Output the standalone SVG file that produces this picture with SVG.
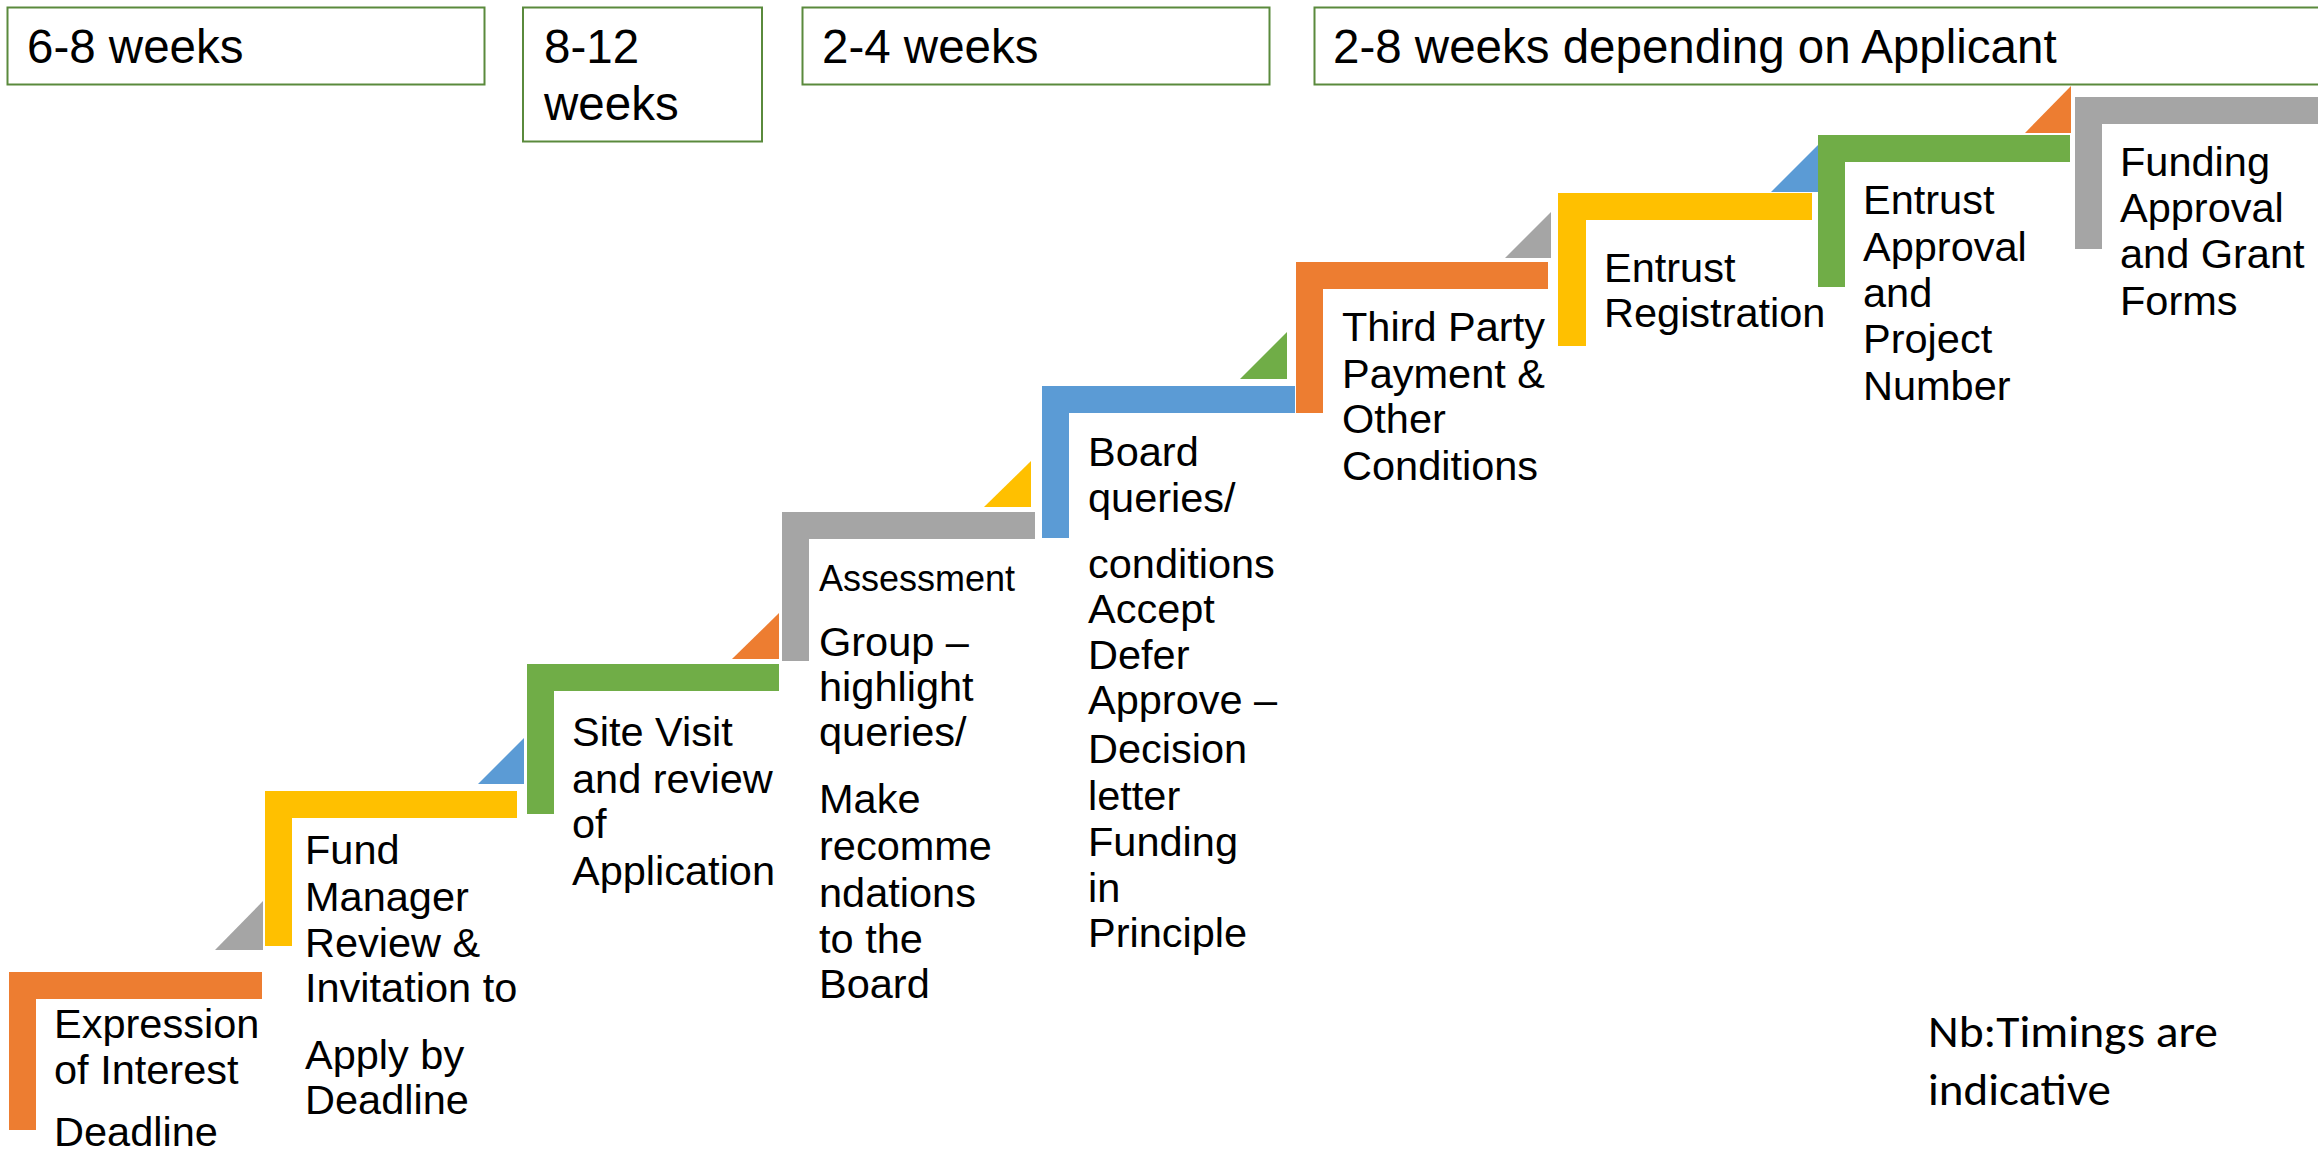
<svg xmlns="http://www.w3.org/2000/svg" width="2318" height="1151" viewBox="0 0 2318 1151">
<style>
  .box { fill: #ffffff; stroke: #5A8A3C; stroke-width: 2; }
  .hdr { font-family: "Liberation Sans", Arial, sans-serif; font-size: 47.5px; fill: #000; }
  .lbl { font-family: "Liberation Sans", Arial, sans-serif; font-size: 41.5px; fill: #000; }
  .sm { font-size: 36px; }
  .note { font-family: Carlito, Lato, "Open Sans", sans-serif; font-size: 46px; fill: #000; }
  .orange { fill: #ED7D31; }
  .yellow { fill: #FFC000; }
  .green { fill: #70AD47; }
  .gray { fill: #A5A5A5; }
  .blue { fill: #5B9BD5; }
</style>
<rect width="2318" height="1151" fill="#ffffff"/>

<g id="timing-1">
  <rect class="box" x="7.5" y="7.5" width="477" height="77"/>
  <text class="hdr" x="27" y="63">6-8 weeks</text>
</g>
<g id="timing-2">
  <rect class="box" x="523" y="7.5" width="239" height="134"/>
  <text class="hdr" x="544" y="63">8-12</text>
  <text class="hdr" x="544" y="120">weeks</text>
</g>
<g id="timing-3">
  <rect class="box" x="802.5" y="7.5" width="467" height="77"/>
  <text class="hdr" x="822" y="63">2-4 weeks</text>
</g>
<g id="timing-4">
  <rect class="box" x="1314.5" y="7.5" width="1030" height="77"/>
  <text class="hdr" x="1333" y="63">2-8 weeks depending on Applicant</text>
</g>

<g id="connectors">
  <polygon class="gray" points="263,901 263,950 215,950"/>
  <polygon class="blue" points="524,738 524,784 478,784"/>
  <polygon class="orange" points="779,613 779,659 732,659"/>
  <polygon class="yellow" points="1031,461 1031,507 984,507"/>
  <polygon class="green" points="1287,332 1287,379 1240,379"/>
  <polygon class="gray" points="1551,212 1551,258 1505,258"/>
  <polygon class="blue" points="1818,145 1818,192 1771,192"/>
  <polygon class="orange" points="2071,86 2071,133 2025,133"/>
</g>

<g id="step-1">
  <path class="orange" d="M9,972 H262 V999 H36 V1130 H9 Z"/>
  <text class="lbl" x="54" y="1038">Expression</text>
  <text class="lbl" x="54" y="1084">of Interest</text>
  <text class="lbl" x="54" y="1146">Deadline</text>
</g>
<g id="step-2">
  <path class="yellow" d="M265,791 H517 V818 H292 V946 H265 Z"/>
  <text class="lbl" x="305" y="864">Fund</text>
  <text class="lbl" x="305" y="911">Manager</text>
  <text class="lbl" x="305" y="957">Review &amp;</text>
  <text class="lbl" x="305" y="1002">Invitation to</text>
  <text class="lbl" x="305" y="1069">Apply by</text>
  <text class="lbl" x="305" y="1114">Deadline</text>
</g>
<g id="step-3">
  <path class="green" d="M527,664 H779 V691 H554 V814 H527 Z"/>
  <text class="lbl" x="572" y="746">Site Visit</text>
  <text class="lbl" x="572" y="793">and review</text>
  <text class="lbl" x="572" y="838">of</text>
  <text class="lbl" x="572" y="885">Application</text>
</g>
<g id="step-4">
  <path class="gray" d="M782,512 H1035 V539 H809 V661 H782 Z"/>
  <text class="lbl sm" x="819" y="591">Assessment</text>
  <text class="lbl" x="819" y="656">Group –</text>
  <text class="lbl" x="819" y="701">highlight</text>
  <text class="lbl" x="819" y="746">queries/</text>
  <text class="lbl" x="819" y="813">Make</text>
  <text class="lbl" x="819" y="860">recomme</text>
  <text class="lbl" x="819" y="907">ndations</text>
  <text class="lbl" x="819" y="953">to the</text>
  <text class="lbl" x="819" y="998">Board</text>
</g>
<g id="step-5">
  <path class="blue" d="M1042,386 H1295 V413 H1069 V538 H1042 Z"/>
  <text class="lbl" x="1088" y="466">Board</text>
  <text class="lbl" x="1088" y="512">queries/</text>
  <text class="lbl" x="1088" y="578">conditions</text>
  <text class="lbl" x="1088" y="623">Accept</text>
  <text class="lbl" x="1088" y="669">Defer</text>
  <text class="lbl" x="1088" y="714">Approve –</text>
  <text class="lbl" x="1088" y="763">Decision</text>
  <text class="lbl" x="1088" y="810">letter</text>
  <text class="lbl" x="1088" y="856">Funding</text>
  <text class="lbl" x="1088" y="902">in</text>
  <text class="lbl" x="1088" y="947">Principle</text>
</g>
<g id="step-6">
  <path class="orange" d="M1296,262 H1548 V289 H1323 V413 H1296 Z"/>
  <text class="lbl" x="1342" y="341">Third Party</text>
  <text class="lbl" x="1342" y="388">Payment &amp;</text>
  <text class="lbl" x="1342" y="433">Other</text>
  <text class="lbl" x="1342" y="480">Conditions</text>
</g>
<g id="step-7">
  <path class="yellow" d="M1558,193 H1812 V220 H1586 V346 H1558 Z"/>
  <text class="lbl" x="1604" y="282">Entrust</text>
  <text class="lbl" x="1604" y="327">Registration</text>
</g>
<g id="step-8">
  <path class="green" d="M1818,135 H2070 V162 H1845 V287 H1818 Z"/>
  <text class="lbl" x="1863" y="214">Entrust</text>
  <text class="lbl" x="1863" y="261">Approval</text>
  <text class="lbl" x="1863" y="307">and</text>
  <text class="lbl" x="1863" y="353">Project</text>
  <text class="lbl" x="1863" y="400">Number</text>
</g>
<g id="step-9">
  <path class="gray" d="M2075,97 H2330 V124 H2102 V249 H2075 Z"/>
  <text class="lbl" x="2120" y="176">Funding</text>
  <text class="lbl" x="2120" y="222">Approval</text>
  <text class="lbl" x="2120" y="268">and Grant</text>
  <text class="lbl" x="2120" y="315">Forms</text>
</g>

<g id="note">
  <text class="note" x="1928" y="1047" textLength="290" lengthAdjust="spacingAndGlyphs">Nb:Timings are</text>
  <text class="note" x="1928" y="1105" textLength="183" lengthAdjust="spacingAndGlyphs">indicative</text>
</g>
</svg>
